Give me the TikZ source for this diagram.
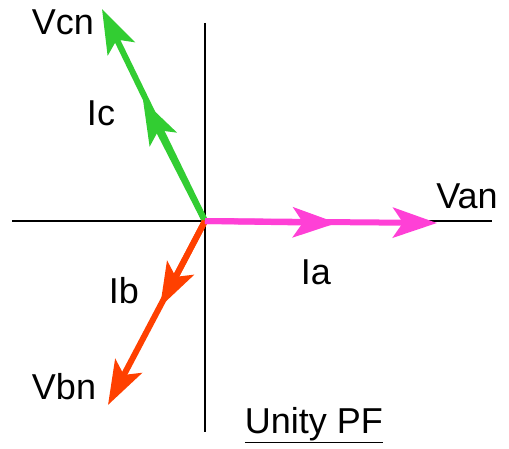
\documentclass[tikz,border=0pt]{standalone}
\usepackage{fontspec}
\setmainfont{Liberation Sans}
\usetikzlibrary{arrows.meta}
\definecolor{phaseA}{RGB}{255,64,214}
\definecolor{phaseB}{RGB}{255,64,0}
\definecolor{phaseC}{RGB}{50,205,50}

\begin{document}
\begin{tikzpicture}[x=1pt,y=-1pt,
  phasor/.style={line width=6pt,-{Stealth[length=44pt,width=30pt,inset=10pt]}},
  lbl/.style={font=\fontsize{36}{40}\selectfont,inner sep=0pt}]
\useasboundingbox (0,0) rectangle (509,449);
% Axes
\coordinate (O) at (205,221);
\coordinate (xl) at (12,221);
\coordinate (xr) at (492,221);
\coordinate (yt) at (205,23);
\coordinate (yb) at (205,432);
\draw[line width=1.5pt] (xl) -- (xr);
\draw[line width=1.5pt] (yt) -- (yb);
% Phasor tips
\coordinate (Vcn) at (102,9);
\coordinate (Ic) at (143,100);
\coordinate (Vbn) at (108,405);
\coordinate (Ib) at (160,307);
\coordinate (Van) at (437,223);
\coordinate (Ia) at (337,223);
% Phase C
\draw[phasor,phaseC] (O) -- (Vcn);
\draw[phasor,phaseC] (O) -- (Ic);
% Phase B
\draw[phasor,phaseB] (O) -- (Vbn);
\draw[phasor,phaseB] (O) -- (Ib);
% Phase A
\draw[phasor,phaseA] (O) -- (Van);
\draw[phasor,phaseA] (O) -- (Ia);
% Labels
\node[lbl] (lVcn) at (63,22) {Vcn};
\node[lbl] (lIc) at (101,113) {Ic};
\node[lbl] (lVan) at (467,196) {Van};
\node[lbl] (lIa) at (316,272) {Ia};
\node[lbl] (lIb) at (124,291) {Ib};
\node[lbl] (lVbn) at (64,387) {Vbn};
\node[lbl,anchor=base] (pf) at (314,433) {\underline{Unity PF}};
\end{tikzpicture}
\end{document}
